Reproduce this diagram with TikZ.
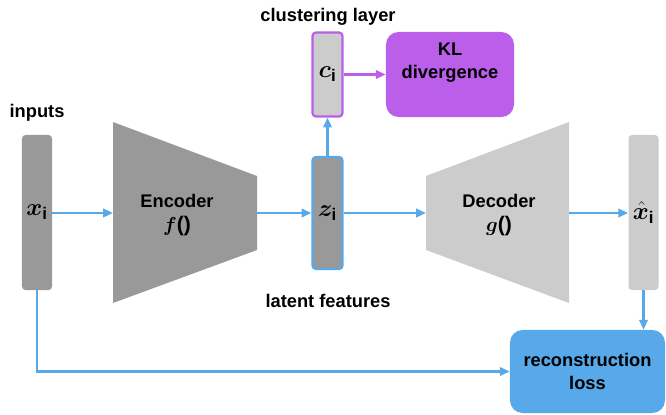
\documentclass[tikz,border=0pt]{standalone}
\usepackage{amsmath}
\usepackage{bm}
\usepackage{fontspec}
\setmainfont{Liberation Sans}
\usetikzlibrary{arrows.meta}

\definecolor{darkbar}{HTML}{999999}
\definecolor{lightbar}{HTML}{CCCCCC}
\definecolor{lossblue}{HTML}{58A9EA}
\definecolor{klpurple}{HTML}{BB5EEA}

\begin{document}
\begin{tikzpicture}[x=0.025cm, y=-0.025cm,
        txt/.style={font={\bfseries\fontsize{13}{16.5}\selectfont}, align=center, black},
        sym/.style={font={\bfseries\fontsize{17}{17}\selectfont}, black},
        bar/.style={rounded corners=2.5pt, minimum width=0.75cm, inner sep=0pt},
        flow/.style={line width=1.6pt, draw=lossblue, -{Triangle[length=7pt,width=6pt]}}]
        \useasboundingbox (0,0) rectangle (666,415);

        % encoder and decoder
        \fill[darkbar] (113,122) -- (257,176) -- (257,250) -- (113,303) -- cycle;
        \fill[lightbar] (426,176) -- (569,122) -- (569,303) -- (426,250) -- cycle;
        \coordinate (encin) at (113,213);
        \coordinate (encout) at (257,213);
        \coordinate (decin) at (426,213);
        \coordinate (decout) at (569,213);
        \node[txt] (enc) at (177,215) {Encoder\\{\fontsize{15}{16.5}\selectfont$\bm{f}$()}};
        \node[txt] (dec) at (499,215) {Decoder\\{\fontsize{15}{16.5}\selectfont$\bm{g}$()}};

        % bars
        \node[sym, bar, fill=darkbar, minimum height=3.875cm] (xin) at (37,212.5) {$\bm{x}_{\text{\fontsize{12}{12}\selectfont i}}$};
        \node[sym, bar, fill=darkbar, draw=lossblue, line width=1.6pt, minimum height=2.8cm] (zlat) at (327.5,213) {$\bm{z}_{\text{\fontsize{12}{12}\selectfont i}}$};
        \node[sym, bar, fill=lightbar, draw=klpurple, line width=1.6pt, minimum height=2.1cm] (cclu) at (327.5,74.5) {$\bm{c}_{\text{\fontsize{12}{12}\selectfont i}}$};
        \node[sym, bar, fill=lightbar, minimum height=3.875cm] (xhat) at (643.5,212.5) {$\hat{\bm{x}}_{\text{\fontsize{12}{12}\selectfont i}}$};

        % boxes
        \node[fill=klpurple, rounded corners=9pt, minimum width=3.2cm, minimum height=2.125cm] (kl) at (450,74.5) {};
        \node[txt] (kltxt) at (450,63) {KL\\divergence};
        \node[txt, fill=lossblue, rounded corners=9pt, minimum width=3.875cm, minimum height=2.075cm] (rec) at (587.5,371.5) {reconstruction\\loss};

        % labels
        \node[txt] (inlbl) at (37,113) {inputs};
        \node[txt] (clulbl) at (328,17) {clustering layer};
        \node[txt] (latlbl) at (328,301) {latent features};

        % arrows
        \draw[flow] (xin.east |- encin) -- (encin);
        \draw[flow] (encout) -- (zlat.west);
        \draw[flow] (zlat.east) -- (decin);
        \draw[flow] (decout) -- (xhat.west |- decout);
        \draw[flow] (zlat.north) -- (cclu.south);
        \draw[flow, draw=klpurple] (cclu.east) -- (kl.west);
        \draw[flow] (xhat.south) -- (xhat.south |- rec.north);
        \draw[flow] (xin.south) |- (rec.west);
\end{tikzpicture}
\end{document}
